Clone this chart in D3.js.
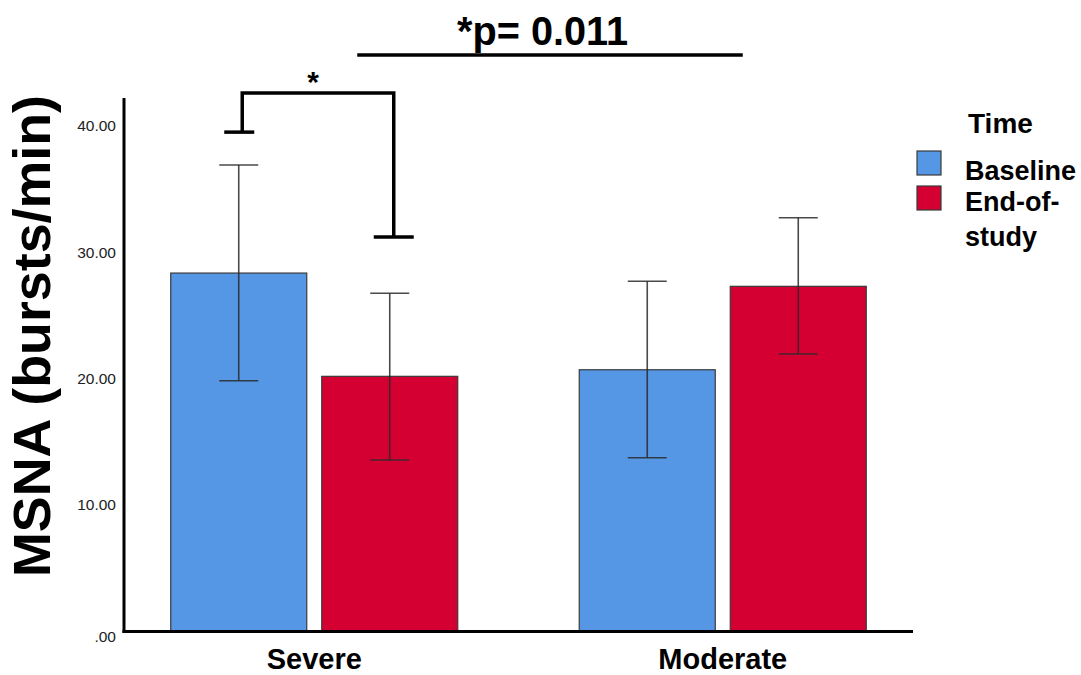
<!DOCTYPE html>
<html>
<head>
<meta charset="utf-8">
<script src="https://cdn.jsdelivr.net/npm/d3@7"></script>
<style>
  body { margin: 0; background: #fff; }
  svg { display: block; font-family: "Liberation Sans", Arial, sans-serif; }
</style>
</head>
<body>
<svg id="chart" width="1081" height="675"></svg>
<script>
// ---- data ----
const categories = ["Severe", "Moderate"];
const series = ["Baseline", "End-of-study"];
const meanBaseline = [28.35, 20.70];
const meanEnd = [20.18, 27.30];
const errLowBaseline = [19.83, 13.74];
const errHighBaseline = [36.90, 27.70];
const errLowEnd = [13.56, 21.95];
const errHighEnd = [26.75, 32.73];
const yTicks = [0, 10, 20, 30, 40];
const yTickLabels = [".00", "10.00", "20.00", "30.00", "40.00"];
const colors = ["#5596E5", "#D50032"];
// significance annotation values
const bracketTop = 42.6, bracketLeftEnd = 39.5, bracketRightEnd = 31.2;
const groupLineValue = 45.6;

const rows = categories.map((c, i) => ({
  cat: c,
  vals: [
    {s: series[0], m: meanBaseline[i], lo: errLowBaseline[i], hi: errHighBaseline[i]},
    {s: series[1], m: meanEnd[i], lo: errLowEnd[i], hi: errHighEnd[i]}
  ]
}));

const svg = d3.select("#chart");
const x0 = d3.scaleBand().domain(categories).range([124, 913]).paddingInner(0.2974).paddingOuter(0.1144);
const x1 = d3.scaleBand().domain(series).range([0, x0.bandwidth()]).paddingInner(0.0993);
const y = d3.scaleLinear().domain([0, 42.2]).range([631.4, 98]);
const color = d3.scaleOrdinal().domain(series).range(colors);

// bars
const g = svg.append("g");
const groups = g.selectAll(".grp").data(rows).join("g")
  .attr("transform", d => `translate(${x0(d.cat)},0)`);
groups.selectAll("rect").data(d => d.vals).join("rect")
  .attr("x", d => x1(d.s))
  .attr("y", d => y(d.m))
  .attr("width", x1.bandwidth())
  .attr("height", d => y(0) - y(d.m))
  .attr("fill", d => color(d.s))
  .attr("stroke", "#3a3a3a")
  .attr("stroke-width", 1.2);

// error bars
const capW = 39;
const eb = groups.selectAll(".eb").data(d => d.vals).join("g")
  .attr("stroke", "#2a2a2a").attr("stroke-opacity", 0.85).attr("stroke-width", 1.6).attr("fill", "none");
eb.append("line")
  .attr("x1", d => x1(d.s) + x1.bandwidth()/2).attr("x2", d => x1(d.s) + x1.bandwidth()/2)
  .attr("y1", d => y(d.lo)).attr("y2", d => y(d.hi));
eb.append("line")
  .attr("x1", d => x1(d.s) + x1.bandwidth()/2 - capW/2).attr("x2", d => x1(d.s) + x1.bandwidth()/2 + capW/2)
  .attr("y1", d => y(d.hi)).attr("y2", d => y(d.hi));
eb.append("line")
  .attr("x1", d => x1(d.s) + x1.bandwidth()/2 - capW/2).attr("x2", d => x1(d.s) + x1.bandwidth()/2 + capW/2)
  .attr("y1", d => y(d.lo)).attr("y2", d => y(d.lo));

// y axis
const yAxis = d3.axisLeft(y).tickValues(yTicks).tickFormat((d, i) => yTickLabels[i]).tickSize(0).tickPadding(8);
const ya = svg.append("g").attr("transform", "translate(124,0)").call(yAxis);
ya.select(".domain").remove();
ya.selectAll("text").attr("font-size", 15.5).attr("fill", "#222").attr("font-family", "Liberation Sans, Arial, sans-serif");
ya.selectAll(".tick").filter(d => d === 0).select("text").attr("dy", "0.62em");
svg.append("line").attr("x1", 124).attr("x2", 124).attr("y1", y(42.2)).attr("y2", y(0) + 1.5)
  .attr("stroke", "#000").attr("stroke-width", 3);

// x axis
const xAxis = d3.axisBottom(x0).tickSize(0).tickPadding(17);
const xa = svg.append("g").attr("transform", `translate(0,${y(0)})`).call(xAxis);
xa.select(".domain").remove();
xa.selectAll("text").attr("font-size", 29).attr("font-weight", "bold").attr("fill", "#000")
  .attr("font-family", "Liberation Sans, Arial, sans-serif");
svg.append("line").attr("x1", 122.5).attr("x2", 913).attr("y1", y(0)).attr("y2", y(0))
  .attr("stroke", "#000").attr("stroke-width", 3);

// y label
svg.append("text")
  .attr("transform", `translate(50,336) rotate(-90)`)
  .attr("text-anchor", "middle")
  .attr("font-size", 51).attr("font-weight", "bold").attr("fill", "#000")
  .attr("textLength", 482).attr("lengthAdjust", "spacingAndGlyphs")
  .text("MSNA (bursts/min)");

// legend
const lg = svg.append("g");
lg.append("text").attr("x", 968).attr("y", 133).attr("font-size", 28).attr("font-weight", "bold").text("Time");
series.forEach((s, i) => {
  lg.append("rect").attr("x", 917).attr("y", 151 + i * 35).attr("width", 24).attr("height", 24)
    .attr("fill", color(s)).attr("stroke", "#3a3a3a").attr("stroke-width", 1.2);
});
lg.append("text").attr("x", 965).attr("y", 180).attr("font-size", 27).attr("font-weight", "bold").text("Baseline");
lg.append("text").attr("x", 965).attr("y", 211).attr("font-size", 27).attr("font-weight", "bold").text("End-of-");
lg.append("text").attr("x", 965).attr("y", 246).attr("font-size", 27).attr("font-weight", "bold").text("study");

// significance bracket (Severe: Baseline vs End-of-study)
const sevX = x0("Severe");
const bxL = sevX + x1("Baseline") + x1.bandwidth()/2 + 3.5;
const bxR = sevX + x1("End-of-study") + x1.bandwidth()/2 + 4;
const ann = svg.append("g").attr("stroke", "#000").attr("stroke-width", 3.5).attr("fill", "none");
ann.append("path").attr("d", `M${bxL},${y(bracketLeftEnd)} V${y(bracketTop)} H${bxR} V${y(bracketRightEnd)}`);
ann.append("line").attr("x1", bxL - 18).attr("x2", bxL + 12).attr("y1", y(bracketLeftEnd)).attr("y2", y(bracketLeftEnd));
ann.append("line").attr("x1", bxR - 20).attr("x2", bxR + 20).attr("y1", y(bracketRightEnd)).attr("y2", y(bracketRightEnd));
svg.append("text").attr("x", (bxL + bxR) / 2 - 5).attr("y", y(bracketTop) - 1).attr("text-anchor", "middle")
  .attr("font-size", 30).attr("font-weight", "bold").text("*");

// group comparison line
const lineL = x0("Severe") + x0.bandwidth() / 2 + 43;
const lineR = x0("Moderate") + x0.bandwidth() / 2 + 20;
svg.append("line").attr("x1", lineL).attr("x2", lineR).attr("y1", y(groupLineValue)).attr("y2", y(groupLineValue))
  .attr("stroke", "#000").attr("stroke-width", 3.5);
svg.append("text").attr("x", 542.5).attr("y", 45).attr("text-anchor", "middle")
  .attr("font-size", 40).attr("font-weight", "bold")
  .attr("textLength", 171).attr("lengthAdjust", "spacingAndGlyphs")
  .text("*p= 0.011");
</script>
</body>
</html>
